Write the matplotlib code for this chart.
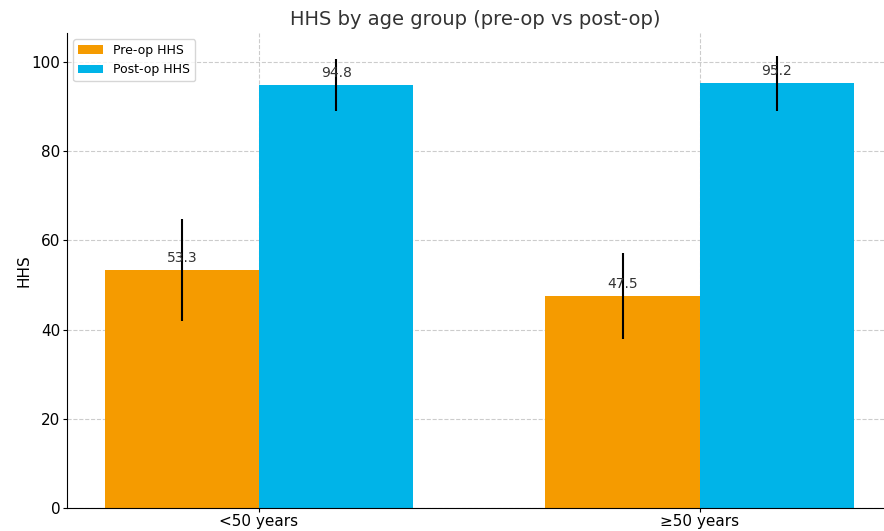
import numpy as np
import matplotlib.pyplot as plt

groups = ['<50 years', '≥50 years']
pre_op = [53.3, 47.5]
post_op = [94.8, 95.2]
pre_err = [11.4, 9.7]
post_err = [5.8, 6.1]

x = np.arange(len(groups))
w = 0.35

fig = plt.figure(figsize=(8.84, 5.31), dpi=100)
ax = fig.add_axes([0.076, 0.043, 0.924, 0.895])

b1 = ax.bar(x - w/2, pre_op, w, yerr=pre_err, color='#F59B00', label='Pre-op HHS',
            error_kw=dict(ecolor='black', elinewidth=1.5, capsize=0))
b2 = ax.bar(x + w/2, post_op, w, yerr=post_err, color='#00B4E8', label='Post-op HHS',
            error_kw=dict(ecolor='black', elinewidth=1.5, capsize=0))

for bars in (b1, b2):
    for r in bars:
        h = r.get_height()
        ax.text(r.get_x() + r.get_width()/2, h + 1.2, f'{h:.1f}',
                ha='center', va='bottom', fontsize=10, color='#333333')

ax.set_xticks(x)
ax.set_xticklabels(groups, fontsize=11)
ax.tick_params(axis='x', length=3, pad=1)
ax.tick_params(axis='y', labelsize=11, length=3, pad=2)
ax.set_ylabel('HHS', fontsize=11, labelpad=0)
ax.set_title('HHS by age group (pre-op vs post-op)', fontsize=14, color='#333333')
ax.set_xlim(-0.435, 1.418)
ax.set_ylim(0, 106.5)
ax.grid(True, linestyle='--', color='#cccccc', linewidth=0.8)
ax.set_axisbelow(True)
ax.spines['top'].set_visible(False)
ax.spines['right'].set_visible(False)
ax.legend(loc='upper left', fontsize=9)

fig.savefig('out.png', dpi=100)
